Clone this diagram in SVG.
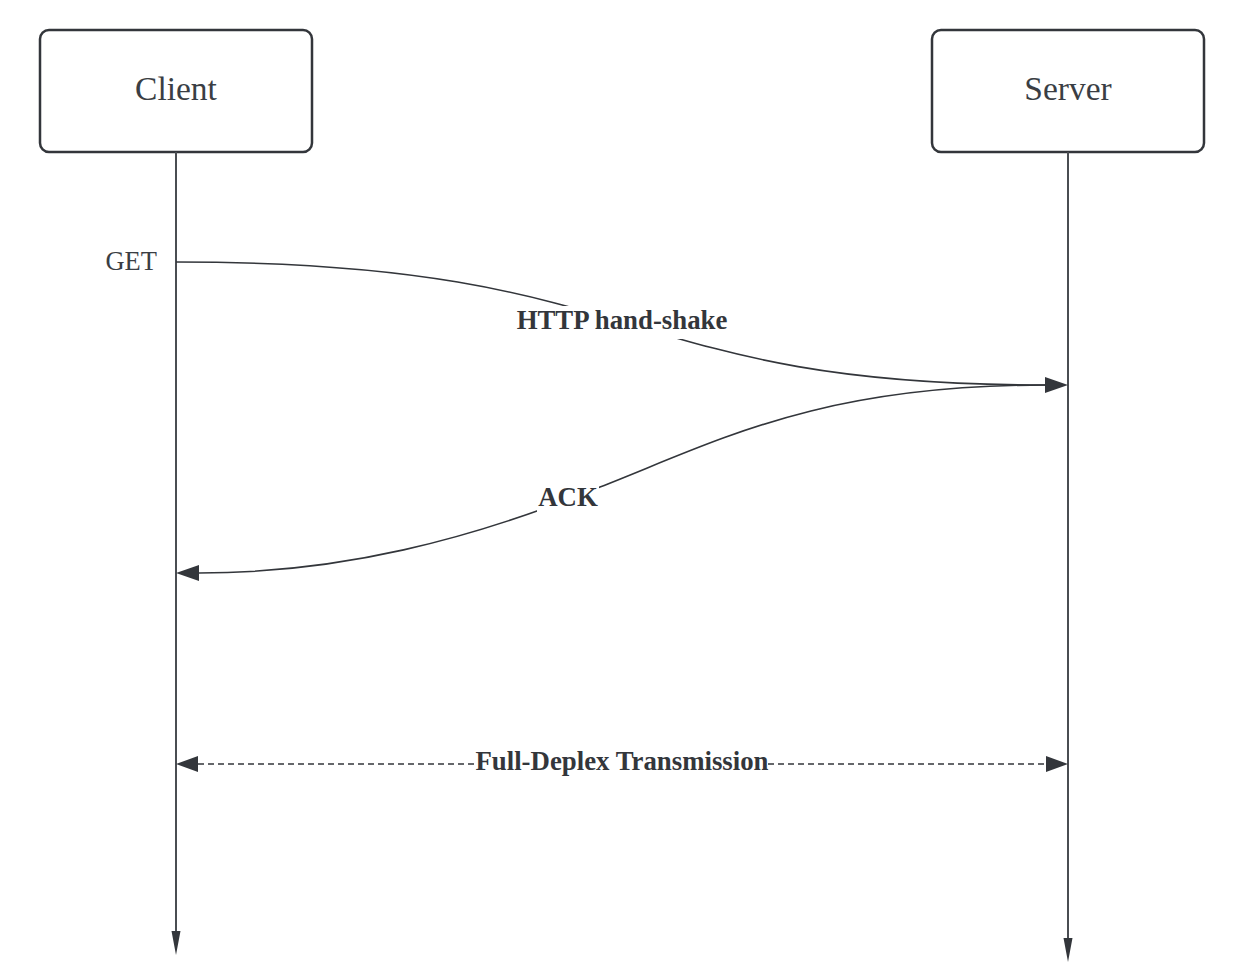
<svg xmlns="http://www.w3.org/2000/svg" width="1248" height="974" viewBox="0 0 1248 974">
<style>
.box{fill:#fff;stroke:#33363b;stroke-width:2.5}
.title{font-family:"Liberation Serif",serif;font-size:33.5px;fill:#3a3e44;text-anchor:middle}
.lbl{font-family:"Liberation Serif",serif;font-size:26.8px;font-weight:bold;fill:#33363b;text-anchor:middle}
.get{font-family:"Liberation Serif",serif;font-size:26.5px;fill:#3a3e44;text-anchor:end}
.life{stroke:#4a4d52;stroke-width:2;fill:none}
.msg{stroke:#33363b;stroke-width:1.6;fill:none}
.dash{stroke:#33363b;stroke-width:1.6;fill:none;stroke-dasharray:6 4}
.head{fill:#33363b}
.bg{fill:#fff}
</style>
<rect width="1248" height="974" fill="#fff"/>
<g id="client">
<rect class="box" x="40" y="30" width="272" height="122" rx="9"/>
<text class="title" x="176" y="100">Client</text>
</g>
<g id="server">
<rect class="box" x="932" y="30" width="272" height="122" rx="9"/>
<text class="title" x="1068" y="100">Server</text>
</g>
<g id="connectors">
<line class="life" x1="176" y1="152" x2="176" y2="932"/>
<polygon class="head" points="171.5,931 180.5,931 176,955"/>
<line class="life" x1="1068" y1="152" x2="1068" y2="939"/>
<polygon class="head" points="1063.5,938 1072.5,938 1068,962"/>
<path class="msg" d="M176,262 C655,262 610,385 1046,385"/>
<polygon class="head" points="1045,377 1045,393 1068,385"/>
<path class="msg" d="M1046,385 C820,385 720,440 600,487 C470,540 340,573 199,573"/>
<polygon class="head" points="199,565 199,581 176,573"/>
<line class="dash" x1="198" y1="764" x2="1046" y2="764"/>
<polygon class="head" points="198,756 198,772 176,764"/>
<polygon class="head" points="1046,756 1046,772 1068,764"/>
<text class="get" x="157" y="270">GET</text>
<rect class="bg" x="516" y="306" width="212" height="33"/>
<text class="lbl" x="622" y="329">HTTP hand-shake</text>
<rect class="bg" x="537" y="484" width="62" height="32"/>
<text class="lbl" x="568" y="506">ACK</text>
<rect class="bg" x="477" y="750" width="290" height="28"/>
<text class="lbl" x="622" y="770">Full-Deplex Transmission</text>
</g>
</svg>
